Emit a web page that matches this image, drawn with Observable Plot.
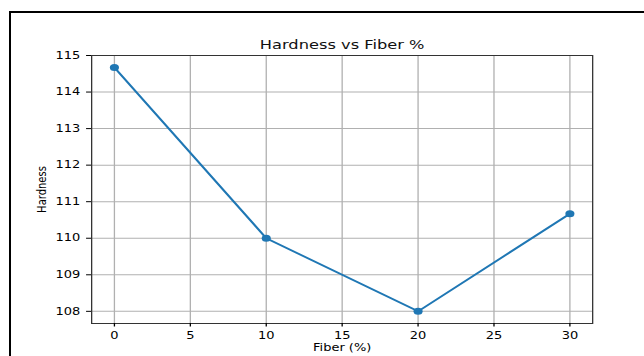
<!DOCTYPE html>
<html>
<head>
<meta charset="utf-8">
<script src="https://cdn.jsdelivr.net/npm/d3@7"></script>
<script src="https://cdn.jsdelivr.net/npm/@observablehq/plot@0.6"></script>
<style>
  html, body { margin: 0; padding: 0; background: #fff; overflow: hidden; width: 644px; height: 356px; }
  #frame { position: absolute; left: 9px; top: 11px; width: 700px; height: 400px; border-top: 2px solid #000; border-left: 2px solid #000; }
  #chart { position: absolute; left: 0; top: 0; transform-origin: 0 0; transform: scaleX(1.3); }
  #chart svg { overflow: visible; }
  #chart .nss line, #chart .nss path, #chart .nss rect { vector-effect: non-scaling-stroke; }
</style>
</head>
<body>
<div id="frame"></div>
<div id="chart"></div>
<script>
const fiber = [0, 10, 20, 30];
const hardness = [114.67, 110.0, 108.0, 110.67];
const xTicks = [0, 5, 10, 15, 20, 25, 30];
const yTicks = [108, 109, 110, 111, 112, 113, 114, 115];
const title = "Hardness vs Fiber %";
const xLabel = "Fiber (%)";
const yLabel = "Hardness";

const data = fiber.map((f, i) => ({fiber: f, hardness: hardness[i]}));

const chart = Plot.plot({
  width: 495,
  height: 356,
  marginLeft: 70,
  marginRight: 39.6,
  marginTop: 55,
  marginBottom: 33,
  style: {fontFamily: "DejaVu Sans", fontSize: "10px", color: "#000", background: "transparent"},
  x: {domain: [-1.5, 31.5]},
  y: {domain: [107.667, 115]},
  marks: [
    Plot.gridX(xTicks, {stroke: "#b0b0b0", strokeOpacity: 1, strokeWidth: 1, className: "nss"}),
    Plot.gridY(yTicks, {stroke: "#b0b0b0", strokeOpacity: 1, strokeWidth: 1, className: "nss"}),
    Plot.frame({stroke: "#333", strokeWidth: 1, className: "nss"}),
    Plot.axisX(xTicks, {tickSize: 3.5, tickPadding: 4.5, label: xLabel, labelAnchor: "center", labelOffset: 27, labelArrow: "none", fontSize: 10, className: "nss"}),
    Plot.axisY(yTicks, {tickSize: 3.8, tickPadding: 5, label: yLabel, labelAnchor: "center", labelOffset: 42.5, labelArrow: "none", className: "nss"}),
    Plot.line(data, {x: "fiber", y: "hardness", stroke: "#1f77b4", strokeWidth: 1.8, className: "nss"}),
    Plot.dot(data, {x: "fiber", y: "hardness", fill: "#1f77b4", r: 3.5}),
    Plot.text([title], {frameAnchor: "top", lineAnchor: "bottom", dy: -7, fontSize: 12.5, fill: "#111"})
  ]
});
document.getElementById("chart").appendChild(chart);
</script>
</body>
</html>
